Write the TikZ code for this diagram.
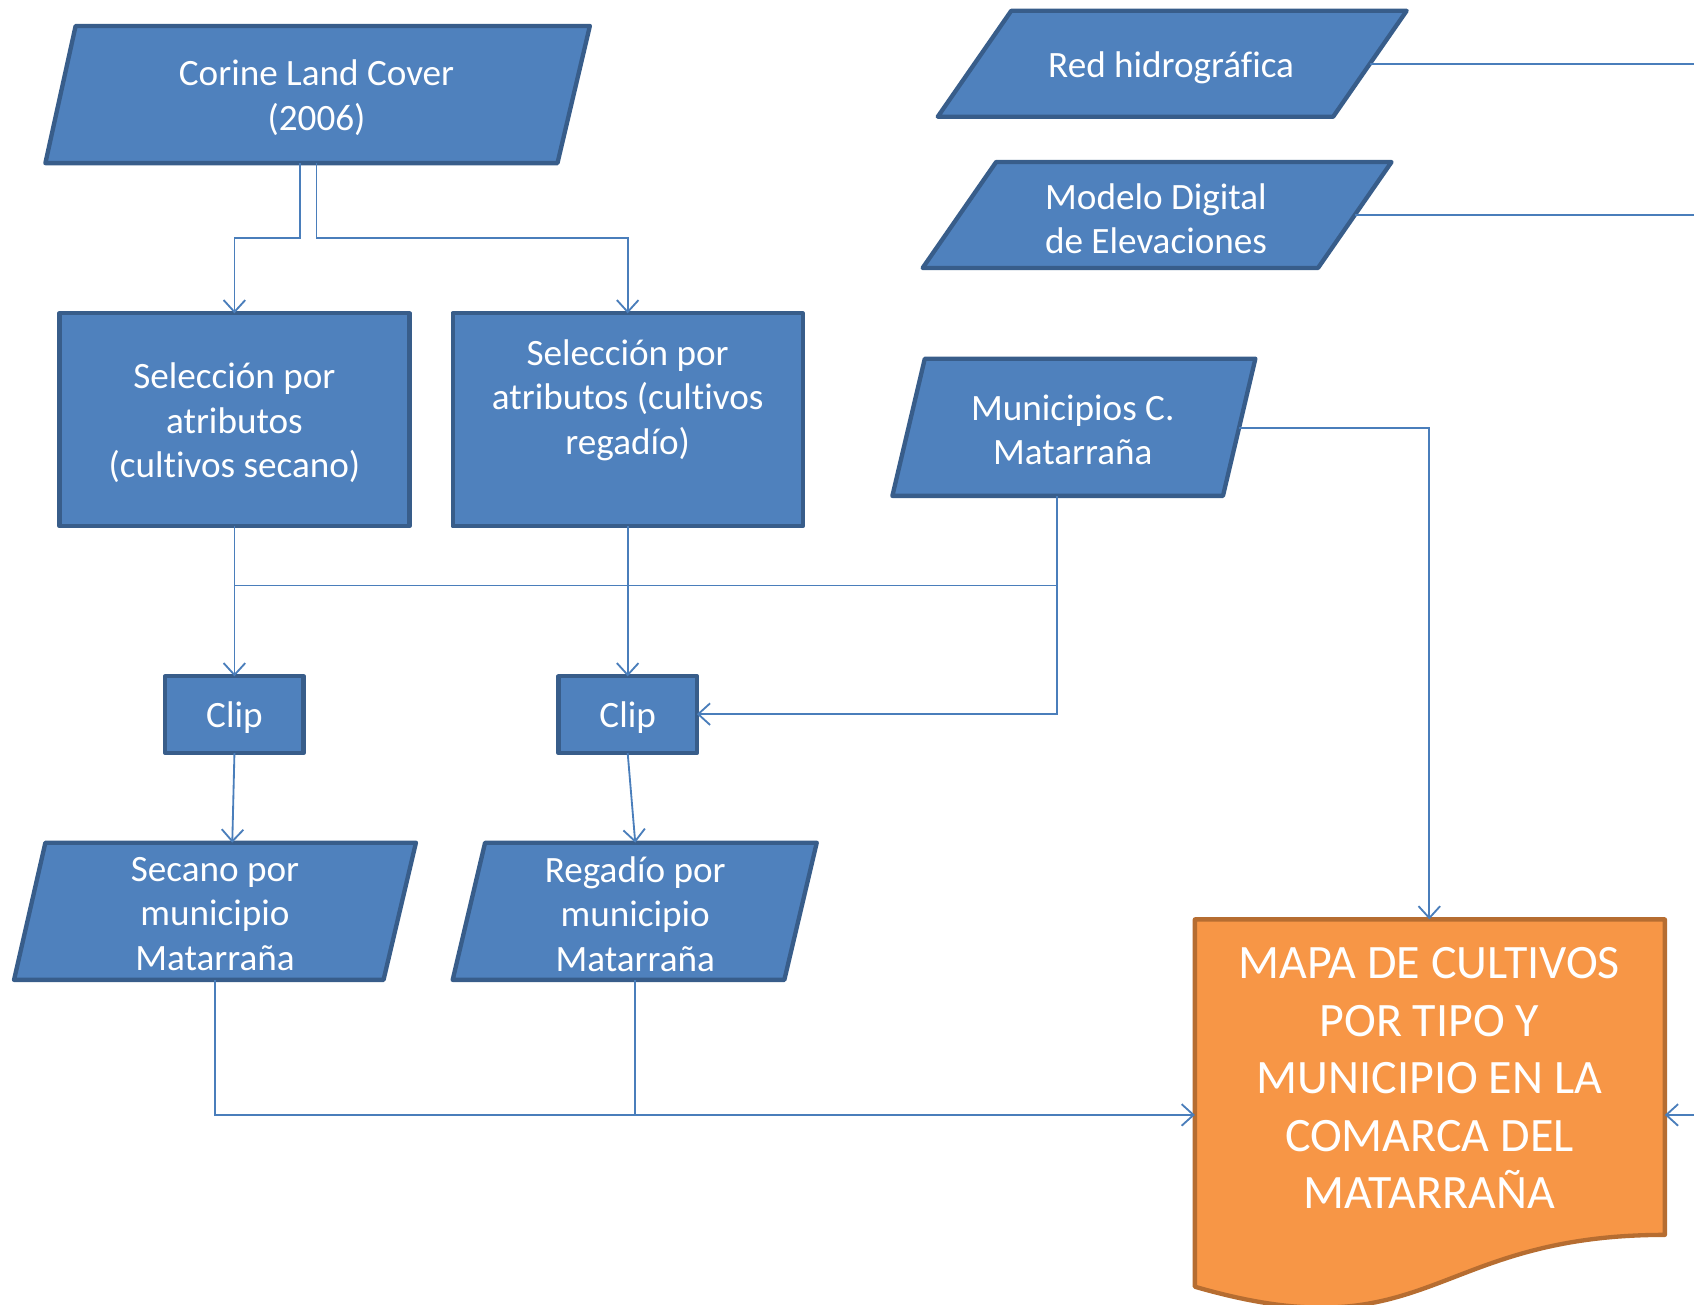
\documentclass[tikz,border=0pt]{standalone}
\usepackage{fontspec}
\setmainfont[Ligatures=NoCommon]{Carlito}
\usetikzlibrary{arrows.meta}
\definecolor{bfill}{HTML}{4F81BD}
\definecolor{bdraw}{HTML}{385D8A}
\definecolor{lnk}{HTML}{4A7EBB}
\definecolor{ofill}{HTML}{F79646}
\definecolor{odraw}{HTML}{B66D31}
\begin{document}
\begin{tikzpicture}[x=0.5pt,y=-0.5pt,
  shapebox/.style={fill=bfill,draw=bdraw,line width=2pt,line join=round},
  orangebox/.style={fill=ofill,draw=odraw,line width=2pt,line join=round},
  lbl/.style={text=white,font=\fontsize{17.2}{20.6}\selectfont,align=center,inner sep=0pt},
  biglbl/.style={text=white,font=\fontsize{22.2}{26.6}\selectfont,align=center,inner sep=0pt},
  link/.style={draw=lnk,line width=0.85pt},
  arr/.style={link,-{Straight Barb[length=5.5pt,width=10pt]}}]
\useasboundingbox (0,0) rectangle (1568,1207);

% shapes
\draw[shapebox] (70,24) -- (546,24) -- (516,151) -- (42,151) -- cycle;
\node[lbl] (corine) at (293,90.5) {Corine Land Cover\\(2006)};

\draw[shapebox] (936,10) -- (1302,10) -- (1234,108) -- (868,108) -- cycle;
\node[lbl] (red) at (1084,62.5) {Red hidrográfica};

\draw[shapebox] (922,150) -- (1288,150) -- (1220,248) -- (854,248) -- cycle;
\node[lbl] (mde) at (1070,202.5) {Modelo Digital\\de Elevaciones};

\draw[shapebox] (856,332) -- (1162,332) -- (1132,459) -- (826,459) -- cycle;
\node[lbl] (muni) at (993,398) {Municipios C.\\Matarraña};

\draw[shapebox] (55,290) rectangle (379,487);
\node[lbl] (sel1) at (217,391.5) {Selección por\\atributos\\(cultivos secano)};

\draw[shapebox] (419,290) rectangle (743,487);
\node[lbl] (sel2) at (581,370.5) {Selección por\\atributos (cultivos\\regadío)};

\draw[shapebox] (153,626) rectangle (281,697);
\node[lbl] (clip1) at (217,664) {Clip};

\draw[shapebox] (517,626) rectangle (645,697);
\node[lbl] (clip2) at (581,664) {Clip};

\draw[shapebox] (42,780) -- (385,780) -- (355,907) -- (13,907) -- cycle;
\node[lbl] (sec) at (199,846) {Secano por\\municipio\\Matarraña};

\draw[shapebox] (449,780) -- (756,780) -- (726,907) -- (419,907) -- cycle;
\node[lbl] (reg) at (588,846) {Regadío por\\municipio\\Matarraña};

\draw[orangebox] (1106,851) -- (1541,851) -- (1541,1143)
  .. controls (1323.5,1143) and (1323.5,1254) .. (1106,1191) -- cycle;
\node[biglbl] (map) at (1323,998) {MAPA DE CULTIVOS\\POR TIPO Y\\MUNICIPIO EN LA\\COMARCA DEL\\MATARRAÑA};

% anchor coordinates
\coordinate (corA) at (278,151);
\coordinate (corB) at (293,151);
\coordinate (sel1T) at (217,290);
\coordinate (sel2T) at (581,290);
\coordinate (sel1B) at (217,487);
\coordinate (sel2B) at (581,487);
\coordinate (clip1T) at (217,626);
\coordinate (clip2T) at (581,626);
\coordinate (clip1B) at (217,697);
\coordinate (clip2B) at (581,697);
\coordinate (clip2R) at (645,661);
\coordinate (muniB) at (978,459);
\coordinate (muniR) at (1147,396);
\coordinate (jn) at (217,542);
\coordinate (secT) at (215,780);
\coordinate (regT) at (588,780);
\coordinate (secB) at (199,907);
\coordinate (regB) at (588,907);
\coordinate (mapL) at (1106,1032);
\coordinate (mapR) at (1541,1032);
\coordinate (mapT) at (1323,851);
\coordinate (redR) at (1268,59);
\coordinate (mdeR) at (1254,199);
\coordinate (edgeA) at (1568,59);
\coordinate (edgeB) at (1568,199);
\coordinate (edgeC) at (1568,1032);

% connectors
\draw[arr] (corA) -- ++(0,69) -| (sel1T);
\draw[arr] (corB) -- ++(0,69) -| (sel2T);
\draw[arr] (sel1B) -- (clip1T);
\draw[arr] (sel2B) -- (clip2T);
\draw[link] (muniB) |- (jn);
\draw[arr] (muniB) |- (clip2R);
\draw[arr] (clip1B) -- (secT);
\draw[arr] (clip2B) -- (regT);
\draw[arr] (secB) |- (mapL);
\draw[link] (regB) -- (regB |- mapL);
\draw[arr] (muniR) -| (mapT);
\draw[link] (redR) -- (edgeA);
\draw[link] (mdeR) -- (edgeB);
\draw[arr] (edgeC) -- (mapR);
\end{tikzpicture}
\end{document}
